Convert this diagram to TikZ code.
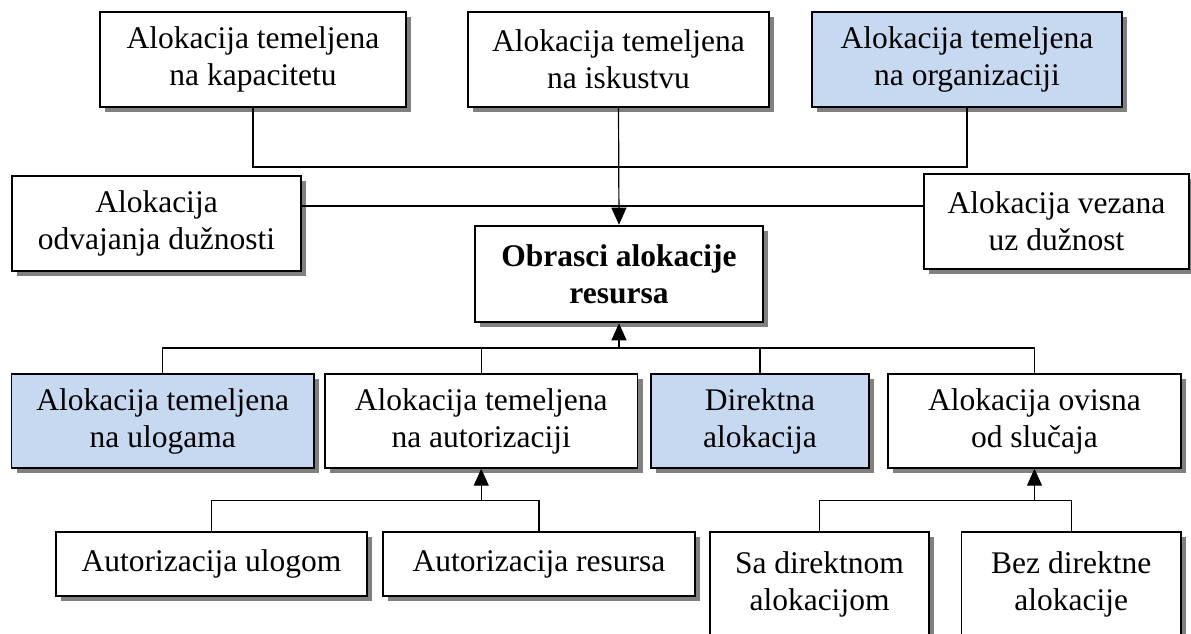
\documentclass[tikz,border=0pt]{standalone}
\usepackage{fontspec}
\setmainfont{Liberation Serif}
\usetikzlibrary{shadows,arrows.meta}
\definecolor{lightblue}{RGB}{198,217,241}
\definecolor{shadowgray}{RGB}{128,128,128}
\tikzset{
	box/.style={draw, line width=1.4pt, fill=white, align=center, inner sep=0pt,
		font=\fontsize{31.5}{37}\selectfont,
		drop shadow={shadow xshift=5pt, shadow yshift=-5pt, fill=shadowgray, opacity=1}},
	bluebox/.style={box, fill=lightblue},
	link/.style={line width=1.2pt},
	arr/.style={link, -{Triangle[width=15pt,length=17pt]}}
}
\begin{document}
\begin{tikzpicture}[x=1pt, y=-1pt]
		\useasboundingbox (0,0) rectangle (1191,634);
		
		% (1) Top row
		\node[box, minimum width=306pt, minimum height=95pt] (kap) at (253, 59.5) {Alokacija temeljena\\na kapacitetu};
		\node[box, minimum width=301pt, minimum height=95pt] (isk) at (618.5, 59.5) {Alokacija temeljena\\na iskustvu};
		\node[bluebox, minimum width=310pt, minimum height=95pt] (org) at (967, 59.5) {Alokacija temeljena\\na organizaciji};
		
		% (2) Middle row
		\node[box, minimum width=289pt, minimum height=95pt] (odv) at (156.5, 223.5) {Alokacija\\odvajanja dužnosti};
		\node[box, minimum width=265pt, minimum height=95pt] (vez) at (1056.5, 221.5) {Alokacija vezana\\uz dužnost};
		\node[box, line width=2.6pt, minimum width=288pt, minimum height=96pt, font=\fontsize{31.5}{37}\selectfont\bfseries] (main) at (619, 274) {Obrasci alokacije\\resursa};
		
		% (3) Lower row
		\node[bluebox, minimum width=302.5pt, minimum height=94pt] (ulo) at (162.75, 421) {Alokacija temeljena\\na ulogama};
		\node[box, minimum width=312.5pt, minimum height=94pt] (aut) at (481.25, 421) {Alokacija temeljena\\na autorizaciji};
		\node[bluebox, minimum width=218pt, minimum height=94pt] (dir) at (760, 421) {Direktna\\alokacija};
		\node[box, minimum width=293pt, minimum height=94pt] (ovi) at (1034.5, 421) {Alokacija ovisna\\od slučaja};
		
		% (4) Bottom row
		\node[box, minimum width=311pt, minimum height=64pt] (ulogom) at (211.5, 564) {Autorizacija ulogom};
		\node[box, minimum width=312pt, minimum height=64pt] (resursa) at (539, 564) {Autorizacija resursa};
		\node[box, minimum width=219pt, minimum height=104pt] (sadir) at (819.5, 584) {Sa direktnom\\alokacijom};
		\node[box, minimum width=219.5pt, minimum height=104pt] (bezdir) at (1071.25, 584) {Bez direktne\\alokacije};
		
		% connectors
		\coordinate (bus1) at (618.5, 167);
		\coordinate (bus2) at (618.5, 206);
		\coordinate (bus3) at (619, 348);
		\coordinate (bus4) at (481.25, 500.7);
		\coordinate (bus5) at (1034.5, 500.7);
		
		\draw[link] (kap.south) |- (bus1) -| (org.south);
		\draw[arr] (isk.south) -- (main.north);
		\draw[link] (odv.east |- bus2) -- (vez.west |- bus2);
		
		\draw[link] (ulo.north) |- (bus3) -| (ovi.north);
		\draw[link] (aut.north) -- (aut.north |- bus3);
		\draw[link] (dir.north) -- (dir.north |- bus3);
		\draw[arr] (bus3) -- (main.south);
		
		\draw[link] (ulogom.north) |- (bus4) -| (resursa.north);
		\draw[arr] (bus4) -- (aut.south);
		\draw[link] (sadir.north) |- (bus5) -| (bezdir.north);
		\draw[arr] (bus5) -- (ovi.south);
	\end{tikzpicture}
\end{document}
